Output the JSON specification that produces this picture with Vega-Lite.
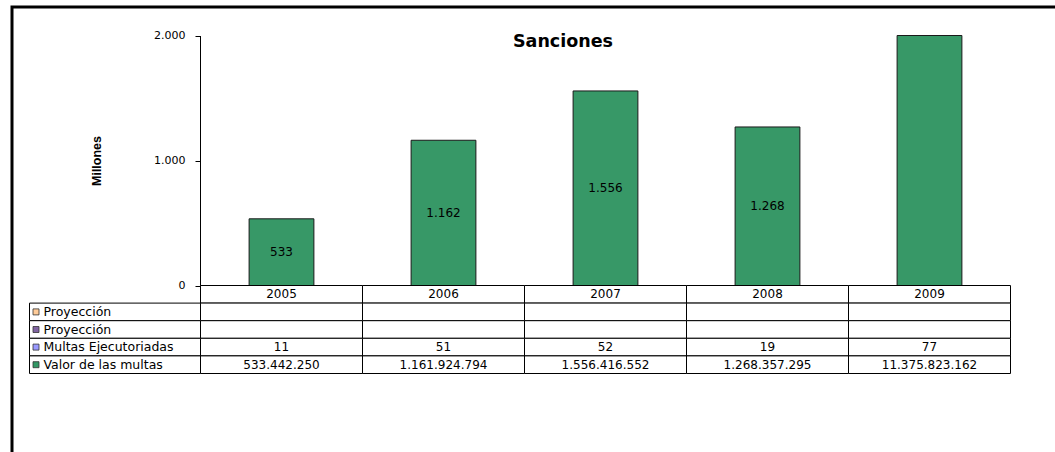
{
  "$schema": "https://vega.github.io/schema/vega-lite/v6.json",
  "width": 1050,
  "height": 455,
  "autosize": {"type": "none"},
  "padding": {"left": 12, "top": 7, "right": -7, "bottom": -10},
  "background": "white",
  "config": {
    "view": {"stroke": "black", "strokeWidth": 3},
    "locale": {"number": {"decimal": ",", "thousands": ".", "grouping": [3], "currency": ["$", ""]}},
    "font": "DejaVu Sans"
  },
  "title": {"text": "Sanciones", "font": "DejaVu Sans", "fontSize": 17.5, "fontWeight": "bold", "color": "black", "offset": 0, "dy": 57, "dx": 26, "anchor": "middle", "baseline": "alphabetic"},
  "datasets": {
    "datos": [
      {"anio": "2005", "multas": 11, "valor": 533442250},
      {"anio": "2006", "multas": 51, "valor": 1161924794},
      {"anio": "2007", "multas": 52, "valor": 1556416552},
      {"anio": "2008", "multas": 19, "valor": 1268357295},
      {"anio": "2009", "multas": 77, "valor": 11375823162}
    ],
    "leyenda": [
      {"fila": "p1", "etiqueta": "Proyección"},
      {"fila": "p2", "etiqueta": "Proyección"},
      {"fila": "m", "etiqueta": "Multas Ejecutoriadas"},
      {"fila": "v", "etiqueta": "Valor de las multas"}
    ]
  },
  "resolve": {"scale": {"x": "independent", "y": "independent"}},
  "layer": [
    {
      "data": {"name": "datos"},
      "mark": {"type": "bar", "width": {"band": 0.4}, "fill": "#379867", "stroke": "#1a1a1a", "strokeWidth": 1},
      "encoding": {
        "x": {"field": "anio", "type": "nominal", "scale": {"domain": ["2005", "2006", "2007", "2008", "2009"], "range": [188.5, 998.5], "paddingInner": 0, "paddingOuter": 0}, "axis": null},
        "y": {"field": "valor", "type": "quantitative",
          "scale": {"domain": [0, 2000000000], "range": [278.5, 28.5], "clamp": true, "nice": false, "zero": true},
          "axis": {"title": "Millones", "offset": -188, "values": [0, 1000000000, 2000000000], "labelExpr": "format(datum.value/1000000, ',d')", "grid": false, "domainColor": "black", "tickColor": "black", "tickSize": 5, "labelPadding": 10, "labelFont": "DejaVu Sans", "labelFontSize": 11, "labelColor": "black", "titleFont": "Liberation Sans", "titleFontSize": 12.5, "titleFontWeight": "bold", "titleColor": "black", "titlePadding": 50}}
      }
    },
    {
      "data": {"name": "datos"},
      "transform": [{"filter": "datum.valor <= 4000000000"}],
      "mark": {"type": "text", "font": "DejaVu Sans", "fontSize": 12, "color": "black", "baseline": "middle", "text": {"expr": "format(datum.valor/1000000, ',.0f')"}},
      "encoding": {
        "x": {"field": "anio", "type": "nominal", "scale": {"domain": ["2005", "2006", "2007", "2008", "2009"], "range": [188.5, 998.5], "paddingInner": 0, "paddingOuter": 0}, "axis": null},
        "y": {"field": "valor", "type": "quantitative", "scale": {"domain": [0, 4000000000], "range": [278.5, 28.5], "nice": false, "zero": true}, "axis": null}
      }
    },
    {
      "data": {"name": "datos"},
      "encoding": {
        "x": {"field": "anio", "type": "nominal", "scale": {"domain": ["2005", "2006", "2007", "2008", "2009"], "range": [188.5, 998.5], "paddingInner": 0, "paddingOuter": 0}, "axis": null}
      },
      "layer": [
        {"mark": {"type": "rect", "fill": "white", "stroke": "black", "strokeWidth": 1},
         "encoding": {"y": {"datum": "h", "type": "nominal", "scale": {"domain": ["h", "p1", "p2", "m", "v"], "range": [278.5, 366.5], "paddingInner": 0, "paddingOuter": 0}, "axis": null}}},
        {"mark": {"type": "rect", "fill": "white", "stroke": "black", "strokeWidth": 1},
         "encoding": {"y": {"datum": "p1", "type": "nominal", "scale": {"domain": ["h", "p1", "p2", "m", "v"], "range": [278.5, 366.5], "paddingInner": 0, "paddingOuter": 0}, "axis": null}}},
        {"mark": {"type": "rect", "fill": "white", "stroke": "black", "strokeWidth": 1},
         "encoding": {"y": {"datum": "p2", "type": "nominal", "scale": {"domain": ["h", "p1", "p2", "m", "v"], "range": [278.5, 366.5], "paddingInner": 0, "paddingOuter": 0}, "axis": null}}},
        {"mark": {"type": "rect", "fill": "white", "stroke": "black", "strokeWidth": 1},
         "encoding": {"y": {"datum": "m", "type": "nominal", "scale": {"domain": ["h", "p1", "p2", "m", "v"], "range": [278.5, 366.5], "paddingInner": 0, "paddingOuter": 0}, "axis": null}}},
        {"mark": {"type": "rect", "fill": "white", "stroke": "black", "strokeWidth": 1},
         "encoding": {"y": {"datum": "v", "type": "nominal", "scale": {"domain": ["h", "p1", "p2", "m", "v"], "range": [278.5, 366.5], "paddingInner": 0, "paddingOuter": 0}, "axis": null}}},
        {"mark": {"type": "text", "font": "DejaVu Sans", "fontSize": 12, "color": "black", "baseline": "middle"},
         "encoding": {"y": {"datum": "h", "type": "nominal", "scale": {"domain": ["h", "p1", "p2", "m", "v"], "range": [278.5, 366.5], "paddingInner": 0, "paddingOuter": 0}, "axis": null},
                      "text": {"field": "anio", "type": "nominal"}}},
        {"mark": {"type": "text", "font": "DejaVu Sans", "fontSize": 12, "color": "black", "baseline": "middle"},
         "encoding": {"y": {"datum": "m", "type": "nominal", "scale": {"domain": ["h", "p1", "p2", "m", "v"], "range": [278.5, 366.5], "paddingInner": 0, "paddingOuter": 0}, "axis": null},
                      "text": {"field": "multas", "type": "quantitative", "format": ",d"}}},
        {"mark": {"type": "text", "font": "DejaVu Sans", "fontSize": 12, "color": "black", "baseline": "middle"},
         "encoding": {"y": {"datum": "v", "type": "nominal", "scale": {"domain": ["h", "p1", "p2", "m", "v"], "range": [278.5, 366.5], "paddingInner": 0, "paddingOuter": 0}, "axis": null},
                      "text": {"field": "valor", "type": "quantitative", "format": ",d"}}}
      ]
    },
    {
      "data": {"name": "leyenda"},
      "encoding": {
        "y": {"field": "fila", "type": "nominal", "scale": {"domain": ["h", "p1", "p2", "m", "v"], "range": [278.5, 366.5], "paddingInner": 0, "paddingOuter": 0}, "axis": null}
      },
      "layer": [
        {"mark": {"type": "rect", "fill": "white", "stroke": "black", "strokeWidth": 1},
         "encoding": {"x": {"datum": "lab", "type": "nominal", "scale": {"domain": ["lab"], "range": [17.5, 188.5], "paddingInner": 0, "paddingOuter": 0}, "axis": null}}},
        {"mark": {"type": "point", "shape": "square", "filled": true, "size": 36, "stroke": "#333333", "strokeWidth": 0.8, "opacity": 1, "xOffset": 6.5},
         "encoding": {"x": {"datum": "lab", "type": "nominal", "bandPosition": 0, "scale": {"domain": ["lab"], "range": [17.5, 188.5], "paddingInner": 0, "paddingOuter": 0}, "axis": null},
                      "color": {"field": "fila", "type": "nominal", "scale": {"domain": ["p1", "p2", "m", "v"], "range": ["#FFCC99", "#8064A2", "#9999FF", "#339966"]}, "legend": null}}},
        {"mark": {"type": "text", "align": "left", "baseline": "middle", "dx": 14, "font": "DejaVu Sans", "fontSize": 12.5, "color": "black"},
         "encoding": {"x": {"datum": "lab", "type": "nominal", "bandPosition": 0, "scale": {"domain": ["lab"], "range": [17.5, 188.5], "paddingInner": 0, "paddingOuter": 0}, "axis": null},
                      "text": {"field": "etiqueta", "type": "nominal"}}}
      ]
    }
  ]
}
